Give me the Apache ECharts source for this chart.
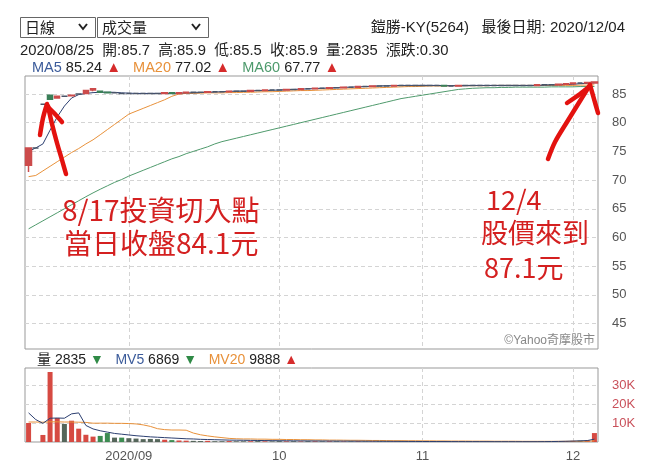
<!DOCTYPE html>
<html><head><meta charset="utf-8">
<script src="https://cdn.jsdelivr.net/npm/echarts@6/dist/echarts.min.js"></script>
<style>html,body{margin:0;padding:0;background:#fff}#c{width:646px;height:475px}</style>
</head><body><div id="c"></div><script>
const dates = ['2020/08/12','2020/08/13','2020/08/14','2020/08/17','2020/08/18','2020/08/19','2020/08/20','2020/08/21','2020/08/24','2020/08/25','2020/08/26','2020/08/27','2020/08/28','2020/08/31',
'2020/09/01','2020/09/02','2020/09/03','2020/09/04','2020/09/07','2020/09/08','2020/09/09','2020/09/10','2020/09/11','2020/09/14','2020/09/15','2020/09/16','2020/09/17','2020/09/18','2020/09/21','2020/09/22','2020/09/23','2020/09/24','2020/09/28','2020/09/29','2020/09/30',
'2020/10/02','2020/10/05','2020/10/06','2020/10/07','2020/10/08','2020/10/12','2020/10/13','2020/10/14','2020/10/15','2020/10/16','2020/10/19','2020/10/20','2020/10/21','2020/10/22','2020/10/23','2020/10/26','2020/10/27','2020/10/28','2020/10/29','2020/10/30',
'2020/11/02','2020/11/03','2020/11/04','2020/11/05','2020/11/06','2020/11/09','2020/11/10','2020/11/11','2020/11/12','2020/11/13','2020/11/16','2020/11/17','2020/11/18','2020/11/19','2020/11/20','2020/11/23','2020/11/24','2020/11/25','2020/11/26','2020/11/27','2020/11/30',
'2020/12/01','2020/12/02','2020/12/03','2020/12/04'];
const opens = [72.6,75.6,83.2,84.8,84.3,84.6,84.7,85.0,85.1,85.7,85.5,85.3,85.2,85.1,
85.1,85.1,85.1,85.1,85.1,85.1,85.2,85.1,85.2,85.3,85.3,85.3,85.4,85.4,85.4,85.5,85.5,85.5,85.6,85.6,85.7,
85.7,85.7,85.8,85.8,85.9,85.9,86.0,86.0,86.1,86.1,86.2,86.2,86.3,86.3,86.4,86.4,86.4,86.5,86.5,86.5,
86.5,86.5,86.5,86.5,86.4,86.4,86.5,86.5,86.5,86.5,86.5,86.5,86.5,86.5,86.5,86.5,86.5,86.6,86.6,86.6,86.7,
86.8,86.9,86.9,86.9];
const closes = [75.6,75.6,83.2,84.1,84.6,84.6,84.8,85.0,85.6,85.9,85.3,85.2,85.2,85.1,
85.1,85.1,85.1,85.1,85.1,85.2,85.1,85.2,85.3,85.3,85.3,85.4,85.4,85.4,85.5,85.5,85.5,85.6,85.6,85.7,85.7,
85.7,85.8,85.8,85.9,85.9,86.0,86.0,86.1,86.1,86.2,86.2,86.3,86.3,86.4,86.4,86.4,86.5,86.5,86.5,86.5,
86.5,86.5,86.5,86.4,86.4,86.5,86.5,86.5,86.5,86.5,86.5,86.5,86.5,86.5,86.5,86.5,86.6,86.6,86.6,86.7,86.8,
86.9,86.9,87.0,87.1];
const highs = [75.6,75.6,83.2,84.9,84.7,84.7,84.9,85.1,85.6,85.9,85.6,85.4,85.3,85.2,
85.2,85.2,85.2,85.2,85.2,85.3,85.2,85.3,85.4,85.4,85.4,85.5,85.5,85.5,85.6,85.6,85.6,85.7,85.7,85.8,85.8,
85.8,85.9,85.9,86.0,86.0,86.1,86.1,86.2,86.2,86.3,86.3,86.4,86.4,86.5,86.5,86.5,86.6,86.6,86.6,86.6,
86.6,86.6,86.6,86.5,86.5,86.6,86.6,86.6,86.6,86.6,86.6,86.6,86.6,86.6,86.6,86.6,86.7,86.7,86.7,86.8,86.9,
87.0,87.0,87.1,87.2];
const lows = [71.4,75.6,83.2,84.0,84.2,84.5,84.6,84.9,85.0,85.5,85.2,85.1,85.1,85.0,
85.0,85.0,85.0,85.0,85.0,85.1,85.0,85.1,85.2,85.2,85.2,85.3,85.3,85.3,85.4,85.4,85.4,85.5,85.5,85.6,85.6,
85.6,85.7,85.7,85.8,85.8,85.9,85.9,86.0,86.0,86.1,86.1,86.2,86.2,86.3,86.3,86.3,86.4,86.4,86.4,86.4,
86.4,86.4,86.4,86.3,86.3,86.4,86.4,86.4,86.4,86.4,86.4,86.4,86.4,86.4,86.4,86.4,86.5,86.5,86.5,86.6,86.7,
86.8,86.8,86.9,87.0];
const ma5 = [75.0,75.6,76.3,78.7,81.0,82.9,84.3,84.9,85.1,85.24,85.3,85.3,85.3,85.2,
85.15,85.1,85.1,85.1,85.1,85.1,85.1,85.15,85.2,85.2,85.25,85.3,85.35,85.4,85.45,85.5,85.5,85.55,85.6,85.6,85.65,
85.7,85.75,85.8,85.85,85.9,85.95,86.0,86.05,86.1,86.15,86.2,86.25,86.3,86.35,86.4,86.45,86.45,86.5,86.5,86.5,
86.5,86.5,86.5,86.45,86.45,86.45,86.45,86.5,86.5,86.5,86.5,86.5,86.5,86.5,86.5,86.5,86.5,86.55,86.6,86.6,86.65,
86.7,86.8,86.85,86.95];
const ma20 = [70.6,70.8,71.6,72.4,73.2,74.0,74.8,75.5,76.3,77.02,77.9,78.8,79.7,80.6,
81.5,82.0,82.5,83.0,83.5,84.0,84.6,85.0,85.1,85.1,85.15,85.2,85.2,85.2,85.25,85.25,85.3,85.3,85.35,85.4,85.4,
85.45,85.5,85.55,85.6,85.6,85.65,85.7,85.75,85.8,85.85,85.9,85.95,86.0,86.05,86.1,86.15,86.2,86.25,86.3,86.3,
86.35,86.4,86.4,86.4,86.45,86.45,86.45,86.45,86.45,86.45,86.5,86.5,86.5,86.5,86.5,86.5,86.5,86.5,86.5,86.5,86.5,
86.5,86.55,86.55,86.6];
const ma60 = [61.5,62.2,62.9,63.6,64.3,65.0,65.7,66.4,67.1,67.77,68.4,69.0,69.6,70.1,
70.7,71.2,71.7,72.2,72.7,73.2,73.7,74.1,74.6,75.0,75.4,75.8,76.3,76.7,77.0,77.3,77.6,77.9,78.2,78.5,78.8,
79.1,79.4,79.7,80.0,80.3,80.6,80.9,81.2,81.5,81.8,82.1,82.4,82.7,83.0,83.3,83.6,83.9,84.2,84.4,84.6,
84.8,85.0,85.2,85.4,85.6,85.8,85.9,86.0,86.05,86.1,86.1,86.15,86.15,86.2,86.2,86.2,86.2,86.2,86.25,86.25,86.25,
86.25,86.3,86.3,86.3];
const volumes = [10000,0,3700,36800,12600,9500,11200,7000,3800,2835,3200,4700,2300,2300,
2000,1800,1500,1600,1500,1200,1000,800,700,600,500,600,400,400,500,350,350,400,450,350,300,
450,350,400,300,400,350,300,350,300,250,250,300,200,200,250,200,200,150,200,150,
200,150,200,150,100,150,150,100,150,100,100,150,100,100,150,100,200,250,300,400,500,
600,700,900,4700];
const mv5 = [15300,11800,9800,12500,12600,12500,14800,15300,8700,6869,5900,5200,4500,4100,
3700,3300,3000,2700,2500,2300,2100,1900,1700,1600,1400,1300,1200,1100,1000,950,900,850,800,750,700,
680,650,620,600,580,560,540,520,500,480,460,440,420,400,380,360,340,320,300,280,
260,250,240,230,220,210,200,200,190,190,180,180,180,170,170,170,180,200,240,300,380,
480,600,750,1500];
const mv20 = [10500,10500,10400,10600,10600,10500,10500,10400,10300,9888,9900,9900,9800,9800,
9700,9500,9000,8200,7000,6500,6300,6300,6200,4700,3800,3200,2700,2300,1900,1700,1600,1600,1500,1500,1400,
1400,1300,1300,1200,1200,1100,1100,1000,1000,950,900,900,850,800,800,750,700,700,650,650,
600,600,550,550,500,500,500,450,450,450,400,400,400,400,350,350,350,350,350,350,350,
380,400,420,600];
const priceTicks = [45,50,55,60,65,70,75,80,85];
const volTicks = [10000,20000,30000];

const FONT = 'Liberation Sans, "Noto Sans CJK TC", sans-serif';
const CJK = '"Noto Sans CJK TC", sans-serif';
const RED = '#d42020';

function monthStart(i) {
  return i > 0 && dates[i].slice(5,7) !== dates[i-1].slice(5,7);
}
function monthLabel(i) {
  const m = dates[i].slice(5,7);
  return m === '09' ? dates[i].slice(0,7) : m;
}

const candleData = dates.map((d,i) => [opens[i], closes[i], lows[i], highs[i]]);
const volData = volumes.map((v,i) => {
  const prev = i > 0 ? closes[i-1] : closes[i] - 1;
  const c = closes[i] > prev ? '#d64a42' : (closes[i] < prev ? '#3d8c52' : '#55665a');
  return { value: v, itemStyle: { color: c } };
});

const chart = echarts.init(document.getElementById('c'), null, { renderer: 'canvas' });

const vSplit = { show: true, interval: (idx) => monthStart(idx), alignWithLabel: true,
  lineStyle: { type: [4,3], color: '#d4d4d4', width: 1 } };

function arrow(pts) {
  return { type: 'polyline', shape: { points: pts, smooth: 0.3 },
    style: { stroke: '#e3120f', lineWidth: 4.5, lineCap: 'round', lineJoin: 'round', fill: null }, z: 100 };
}
function ann(x, y, text, size) {
  return { type: 'text', x: x, y: y, z: 100, style: { text: text, font: size + 'px ' + CJK, fill: RED, verticalAlign: 'middle' } };
}

const graphic = [
  { type: 'rect', shape: { x: 20.5, y: 17.5, width: 75, height: 20 }, style: { fill: '#fff', stroke: '#666', lineWidth: 1 } },
  { type: 'text', x: 25, y: 27.5, style: { text: '日線', font: '15px ' + CJK, fill: '#222', verticalAlign: 'middle' } },
  { type: 'polyline', shape: { points: [[79,24],[83,29],[87,24]] }, style: { stroke: '#222', lineWidth: 2, fill: null } },
  { type: 'rect', shape: { x: 97.5, y: 17.5, width: 111, height: 20 }, style: { fill: '#fff', stroke: '#666', lineWidth: 1 } },
  { type: 'text', x: 102, y: 27.5, style: { text: '成交量', font: '15px ' + CJK, fill: '#222', verticalAlign: 'middle' } },
  { type: 'polyline', shape: { points: [[192,24],[196,29],[200,24]] }, style: { stroke: '#222', lineWidth: 2, fill: null } },
  { type: 'text', x: 625, y: 28, style: { text: '鎧勝-KY(5264)   最後日期: 2020/12/04', font: '15px ' + FONT, fill: '#222', align: 'right', verticalAlign: 'middle' } },
  { type: 'text', x: 20, y: 51, style: { text: '2020/08/25  開:85.7  高:85.9  低:85.5  收:85.9  量:2835  漲跌:0.30', font: '14.8px ' + FONT, fill: '#222', verticalAlign: 'middle' } },
  { type: 'text', x: 32, y: 68, style: {
      text: '{b|MA5} 85.24 {r|▲}   {o|MA20} 77.02 {r|▲}   {g|MA60} 67.77 {r|▲}',
      font: '14.5px ' + FONT, fill: '#222', verticalAlign: 'middle',
      rich: { b: { fill: '#3b5b9a', font: '14.5px ' + FONT }, o: { fill: '#e8913a', font: '14.5px ' + FONT }, g: { fill: '#4d9a6c', font: '14.5px ' + FONT }, r: { fill: '#d62b2b', font: '15px ' + FONT } } } },
  { type: 'text', x: 37, y: 360, style: {
      text: '量 2835 {gr|▼}   {b|MV5} 6869 {gr|▼}   {o|MV20} 9888 {r|▲}',
      font: '14px ' + FONT, fill: '#222', verticalAlign: 'middle',
      rich: { b: { fill: '#3b5b9a', font: '14px ' + FONT }, o: { fill: '#e8913a', font: '14px ' + FONT }, gr: { fill: '#2f8a46', font: '14px ' + FONT }, r: { fill: '#d62b2b', font: '14px ' + FONT } } } },
  { type: 'text', x: 595, y: 341, style: { text: '©Yahoo奇摩股市', font: '12px ' + FONT, fill: '#888', align: 'right', verticalAlign: 'middle' } },
  ann(62, 210, '8/17投資切入點', 28),
  ann(64, 243, '當日收盤84.1元', 28),
  ann(486, 200, '12/4', 27),
  ann(481, 233, '股價來到', 27),
  ann(484, 268, '87.1元', 27),
  arrow([[66,174],[62,160],[57,143],[52,124],[48,106]]),
  arrow([[40,135],[43,118],[47,104]]),
  arrow([[49,108],[55,114],[62,122]]),
  arrow([[548,159],[555,142],[567,122],[580,101],[590,85]]),
  arrow([[567,103],[580,94],[590,86]]),
  arrow([[590,85],[594,99],[598,113]])
];

chart.setOption({
  animation: false,
  textStyle: { fontFamily: FONT },
  graphic: graphic,
  grid: [
    { left: 25, top: 76, width: 573, height: 273, show: true, borderColor: '#999', borderWidth: 1, backgroundColor: 'transparent' },
    { left: 25, top: 368, width: 573, height: 74, show: true, borderColor: '#999', borderWidth: 1, backgroundColor: 'transparent' }
  ],
  xAxis: [
    { type: 'category', gridIndex: 0, data: dates, boundaryGap: true,
      axisLine: { show: false }, axisTick: { show: false }, axisLabel: { show: false }, splitLine: vSplit },
    { type: 'category', gridIndex: 1, data: dates, boundaryGap: true,
      axisLine: { show: false }, axisTick: { show: false },
      axisLabel: { show: true, interval: (idx) => monthStart(idx), formatter: (v, idx) => monthLabel(idx),
        color: '#555', fontSize: 13, margin: 8 },
      splitLine: vSplit }
  ],
  yAxis: [
    { type: 'value', gridIndex: 0, position: 'right', min: 40.56, max: 88.14,
      axisLine: { show: false }, axisTick: { show: false, customValues: priceTicks },
      axisLabel: { customValues: priceTicks, color: '#555', fontSize: 13, margin: 14 },
      splitLine: { show: true, lineStyle: { type: [4,3], color: '#d4d4d4' } } },
    { type: 'value', gridIndex: 1, position: 'right', min: 0, max: 38900,
      axisLine: { show: false }, axisTick: { show: false, customValues: volTicks },
      axisLabel: { customValues: volTicks, color: '#c9505a', fontSize: 13, margin: 14, formatter: v => (v/1000) + 'K' },
      splitLine: { show: true, lineStyle: { type: [4,3], color: '#d4d4d4' } } }
  ],
  series: [
    { type: 'line', xAxisIndex: 0, yAxisIndex: 0, data: ma60, symbol: 'none', z: 2, lineStyle: { color: '#4f9a6c', width: 1 } },
    { type: 'line', xAxisIndex: 0, yAxisIndex: 0, data: ma20, symbol: 'none', z: 2, lineStyle: { color: '#e8913a', width: 1 } },
    { type: 'line', xAxisIndex: 0, yAxisIndex: 0, data: ma5, symbol: 'none', z: 2, lineStyle: { color: '#2c3f70', width: 1 } },
    { type: 'candlestick', xAxisIndex: 0, yAxisIndex: 0, data: candleData, barWidth: 6, z: 5,
      itemStyle: { color: '#cc4b4b', color0: '#3a7f58', borderColor: '#cc4b4b', borderColor0: '#3a7f58', borderColorDoji: '#4a5568', borderWidth: 1.5 } },
    { type: 'bar', xAxisIndex: 1, yAxisIndex: 1, data: volData, barWidth: 5 },
    { type: 'line', xAxisIndex: 1, yAxisIndex: 1, data: mv20, symbol: 'none', lineStyle: { color: '#e8913a', width: 1 } },
    { type: 'line', xAxisIndex: 1, yAxisIndex: 1, data: mv5, symbol: 'none', lineStyle: { color: '#2c3f70', width: 1 } }
  ]
});
</script></body></html>
